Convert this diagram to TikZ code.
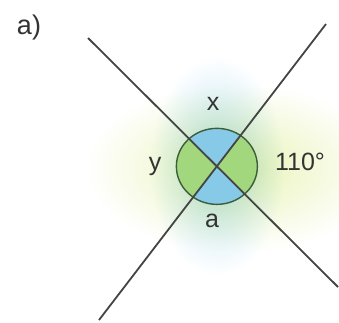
\documentclass[tikz,border=0pt]{standalone}
\usepackage{fontspec}
\setmainfont{Liberation Sans}
\usetikzlibrary{calc}
\definecolor{txt}{HTML}{333333}
\definecolor{linec}{HTML}{444444}
\definecolor{secblue}{HTML}{86CAE8}
\definecolor{secgreen}{HTML}{A2D77E}
\definecolor{ringc}{HTML}{3C5E3C}
\definecolor{glowblue}{HTML}{B8E0F4}
\definecolor{glowgreen}{HTML}{E8F3B4}
\tikzset{
  lbl/.style={text=txt,font=\fontsize{25}{29}\selectfont,inner sep=0pt},
  bigline/.style={draw=linec,line width=1.8pt},
}
\begin{document}
\begin{tikzpicture}[x=1pt,y=-1pt]
\useasboundingbox (0,0) rectangle (339,322);
\fill[white] (0,0) rectangle (339,322);
% glows
\begin{scope}[blend mode=multiply]
\shade[inner color=glowgreen,outer color=white] (235,168) ellipse (150 and 85);
\shade[inner color=glowblue,outer color=white] (217,166) ellipse (68 and 110);
\end{scope}
\coordinate (A1) at (88,38);
\coordinate (A2) at (338,287);
\coordinate (B1) at (99,320);
\coordinate (B2) at (326,24);
\coordinate (O) at (intersection of A1--A2 and B1--B2);
% sectors
\begin{scope}
\clip (O) ellipse (40.5 and 38);
\fill[secblue] (O) -- (A1) -- (B2) -- cycle;
\fill[secblue] (O) -- (B1) -- (A2) -- cycle;
\fill[secgreen] (O) -- (A1) -- (B1) -- cycle;
\fill[secgreen] (O) -- (B2) -- (A2) -- cycle;
\end{scope}
\draw[ringc,line width=1.4pt] (O) ellipse (40.5 and 38);
\draw[bigline] (A1) -- (A2);
\draw[bigline] (B1) -- (B2);
% labels
\node[lbl] (lx) at (213,104) {x};
\node[lbl] (ly) at (155,166) {y};
\node[lbl] (la) at (212,221) {a};
\node[lbl] (l110) at (300,162) {110°};
\node[lbl,font=\fontsize{27}{31}\selectfont] (title) at (29,28) {a)};
\end{tikzpicture}
\end{document}
